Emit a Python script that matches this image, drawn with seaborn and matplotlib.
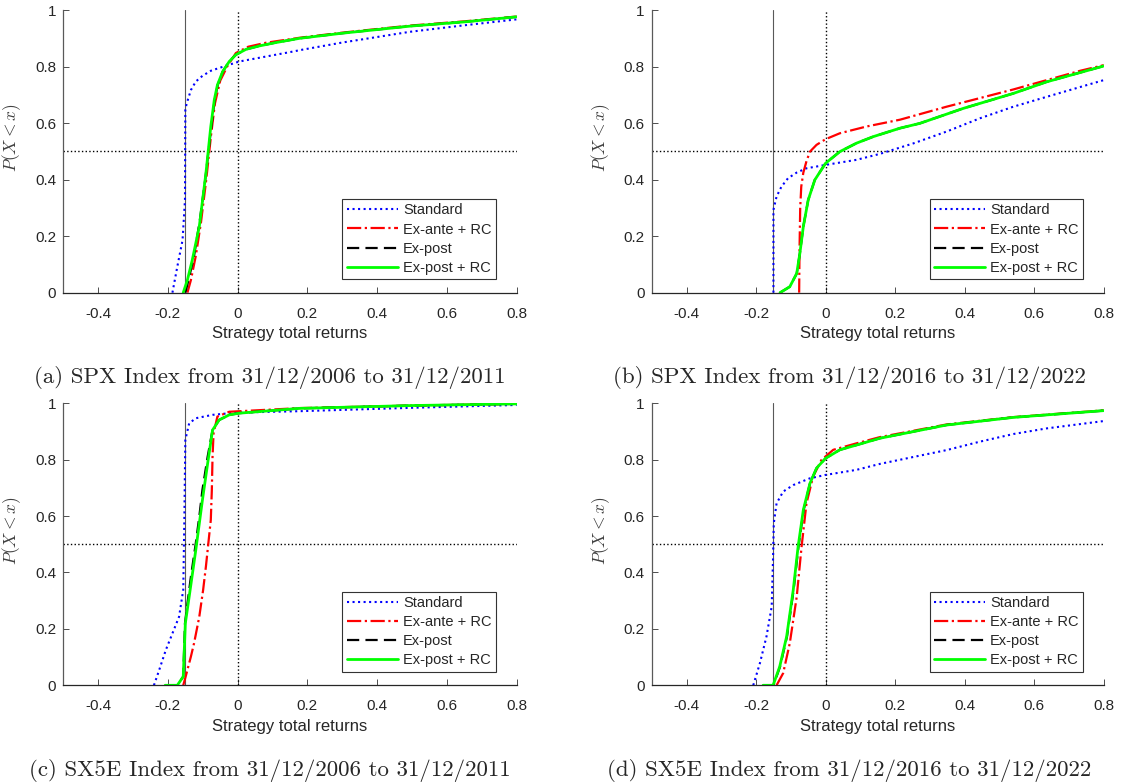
import seaborn as sns
import matplotlib.pyplot as plt
from matplotlib.ticker import FuncFormatter

# Series labels and styles
labels = ['Standard', 'Ex-ante + RC', 'Ex-post', 'Ex-post + RC']
captions = ['(a) SPX Index from 31/12/2006 to 31/12/2011',
            '(b) SPX Index from 31/12/2016 to 31/12/2022',
            '(c) SX5E Index from 31/12/2006 to 31/12/2011',
            '(d) SX5E Index from 31/12/2016 to 31/12/2022']
x_ticks = [-0.4, -0.2, 0, 0.2, 0.4, 0.6, 0.8]
y_ticks = [0, 0.2, 0.4, 0.6, 0.8, 1]

# (a) SPX 2006-2011
a_std_x = [-0.187, -0.173, -0.158, -0.151, -0.150, -0.146, -0.134, -0.120, -0.101, -0.077,
           -0.053, 0.005, 0.158, 0.178, 0.30, 0.494, 0.65, 0.80]
a_std_y = [0.0, 0.092, 0.186, 0.328, 0.647, 0.670, 0.717, 0.747, 0.767, 0.785,
           0.795, 0.818, 0.853, 0.858, 0.885, 0.923, 0.946, 0.967]
a_ante_x = [-0.144, -0.134, -0.120, -0.105, -0.090, -0.076, -0.065, -0.050, -0.030, -0.005,
            0.030, 0.080, 0.178, 0.30, 0.494, 0.65, 0.80]
a_ante_y = [0.0, 0.045, 0.13, 0.25, 0.40, 0.56, 0.67, 0.75, 0.80, 0.848,
            0.870, 0.884, 0.902, 0.920, 0.945, 0.960, 0.977]
a_post_x = [-0.150, -0.138, -0.125, -0.108, -0.093, -0.078, -0.066, -0.057, -0.043, -0.024,
            -0.005, 0.024, 0.062, 0.110, 0.178, 0.30, 0.494, 0.65, 0.80]
a_post_y = [0.0, 0.06, 0.13, 0.26, 0.40, 0.56, 0.682, 0.735, 0.782, 0.818,
            0.842, 0.861, 0.873, 0.885, 0.900, 0.918, 0.943, 0.958, 0.976]
a_rc_x = [-0.156, -0.144, -0.130, -0.110, -0.091, -0.077, -0.067, -0.058, -0.043, -0.024,
          -0.005, 0.024, 0.062, 0.110, 0.178, 0.30, 0.494, 0.65, 0.80]
a_rc_y = [0.0, 0.045, 0.116, 0.234, 0.422, 0.588, 0.682, 0.735, 0.782, 0.818,
          0.842, 0.861, 0.873, 0.885, 0.900, 0.918, 0.943, 0.958, 0.976]

# (b) SPX 2016-2022
b_std_x = [-0.150, -0.150, -0.141, -0.127, -0.108, -0.083, -0.055, 0.0, 0.089, 0.156,
           0.252, 0.348, 0.444, 0.540, 0.636, 0.80]
b_std_y = [0.0, 0.293, 0.340, 0.375, 0.405, 0.425, 0.440, 0.452, 0.470, 0.491,
           0.528, 0.570, 0.617, 0.658, 0.693, 0.752]
b_ante_x = [-0.076, -0.075, -0.073, -0.070, -0.064, -0.055, -0.045, -0.026, 0.0, 0.041,
            0.118, 0.214, 0.348, 0.540, 0.732, 0.80]
b_ante_y = [0.0, 0.15, 0.30, 0.375, 0.425, 0.465, 0.499, 0.523, 0.543, 0.564,
            0.588, 0.612, 0.658, 0.719, 0.785, 0.805]
b_post_x = [-0.131, -0.103, -0.083, -0.074, -0.064, -0.050, -0.031, 0.0, 0.041, 0.089,
            0.137, 0.214, 0.271, 0.396, 0.540, 0.636, 0.80]
b_post_y = [0.0, 0.021, 0.068, 0.139, 0.234, 0.328, 0.399, 0.458, 0.499, 0.529,
            0.552, 0.582, 0.599, 0.652, 0.705, 0.746, 0.802]
b_rc_x = [-0.131, -0.103, -0.083, -0.074, -0.064, -0.050, -0.031, 0.0, 0.041, 0.089,
          0.137, 0.214, 0.271, 0.396, 0.540, 0.636, 0.80]
b_rc_y = [0.0, 0.021, 0.068, 0.139, 0.234, 0.328, 0.399, 0.458, 0.499, 0.529,
          0.552, 0.582, 0.599, 0.652, 0.705, 0.746, 0.802]

# (c) SX5E 2006-2011
c_std_x = [-0.240, -0.225, -0.206, -0.187, -0.168, -0.156, -0.153, -0.150, -0.139, -0.120,
           -0.072, -0.005, 0.178, 0.50, 0.80]
c_std_y = [0.0, 0.054, 0.125, 0.184, 0.243, 0.338, 0.574, 0.870, 0.929, 0.947,
           0.959, 0.967, 0.972, 0.984, 0.994]
c_ante_x = [-0.156, -0.149, -0.134, -0.125, -0.110, -0.099, -0.091, -0.081, -0.077, -0.074,
            -0.072, -0.069, -0.058, -0.024, 0.178, 0.50, 0.80]
c_ante_y = [0.0, 0.031, 0.102, 0.149, 0.243, 0.338, 0.421, 0.539, 0.586, 0.693,
            0.811, 0.894, 0.953, 0.970, 0.983, 0.992, 0.998]
c_post_x = [-0.205, -0.172, -0.156, -0.151, -0.144, -0.134, -0.120, -0.110, -0.101, -0.086,
            -0.072, -0.053, -0.024, 0.005, 0.178, 0.50, 0.80]
c_post_y = [0.0, 0.0, 0.031, 0.220, 0.290, 0.385, 0.504, 0.598, 0.693, 0.811,
            0.905, 0.941, 0.959, 0.965, 0.982, 0.992, 0.998]
c_rc_x = [-0.208, -0.173, -0.156, -0.150, -0.139, -0.120, -0.101, -0.086, -0.072, -0.053,
          -0.024, 0.005, 0.178, 0.50, 0.80]
c_rc_y = [0.0, 0.0, 0.031, 0.220, 0.314, 0.480, 0.657, 0.787, 0.905, 0.941,
          0.959, 0.965, 0.982, 0.992, 0.998]

# (d) SX5E 2016-2022
d_std_x = [-0.208, -0.189, -0.170, -0.155, -0.151, -0.149, -0.141, -0.122, -0.093, -0.045,
           0.0, 0.089, 0.156, 0.348, 0.444, 0.540, 0.636, 0.80]
d_std_y = [0.0, 0.078, 0.173, 0.279, 0.456, 0.574, 0.645, 0.687, 0.710, 0.734,
           0.746, 0.764, 0.785, 0.834, 0.864, 0.891, 0.911, 0.937]
d_ante_x = [-0.141, -0.122, -0.103, -0.083, -0.069, -0.055, -0.036, -0.012, 0.022, 0.089,
            0.156, 0.348, 0.540, 0.80]
d_ante_y = [0.0, 0.043, 0.149, 0.314, 0.492, 0.645, 0.740, 0.799, 0.835, 0.858,
            0.880, 0.925, 0.951, 0.975]
d_post_x = [-0.178, -0.150, -0.131, -0.111, -0.092, -0.078, -0.063, -0.045, -0.026, 0.0,
            0.041, 0.089, 0.156, 0.348, 0.540, 0.80]
d_post_y = [0.0, 0.0, 0.066, 0.173, 0.338, 0.492, 0.622, 0.716, 0.770, 0.805,
            0.835, 0.852, 0.876, 0.923, 0.950, 0.974]
d_rc_x = [-0.180, -0.151, -0.132, -0.112, -0.093, -0.079, -0.064, -0.045, -0.026, 0.0,
          0.041, 0.089, 0.156, 0.348, 0.540, 0.80]
d_rc_y = [0.0, 0.0, 0.066, 0.173, 0.338, 0.492, 0.622, 0.716, 0.770, 0.805,
          0.835, 0.852, 0.876, 0.923, 0.950, 0.974]

panels = [
    [(a_std_x, a_std_y), (a_ante_x, a_ante_y), (a_post_x, a_post_y), (a_rc_x, a_rc_y)],
    [(b_std_x, b_std_y), (b_ante_x, b_ante_y), (b_post_x, b_post_y), (b_rc_x, b_rc_y)],
    [(c_std_x, c_std_y), (c_ante_x, c_ante_y), (c_post_x, c_post_y), (c_rc_x, c_rc_y)],
    [(d_std_x, d_std_y), (d_ante_x, d_ante_y), (d_post_x, d_post_y), (d_rc_x, d_rc_y)],
]

styles = [
    dict(color=(0, 0, 1), linestyle=':', linewidth=1.5),
    dict(color=(1, 0, 0), linestyle=(0, (6.4, 1.6, 1.0, 1.6)), linewidth=1.6),
    dict(color='black', linestyle=(0, (5.5, 2.8)), linewidth=1.6),
    dict(color=(0, 1, 0), linestyle='-', linewidth=2.0),
]

# Set style
sns.set_style("ticks", {'xtick.direction': 'in', 'ytick.direction': 'in'})
plt.rcParams['font.family'] = ['Liberation Sans', 'DejaVu Sans']
plt.rcParams['mathtext.fontset'] = 'cm'

fig = plt.figure(figsize=(11.4, 7.84), dpi=100)
positions = [[0.0555, 0.6267, 0.3977, 0.3605],
             [0.5717, 0.6267, 0.3965, 0.3605],
             [0.0555, 0.1259, 0.3977, 0.3597],
             [0.5717, 0.1259, 0.3965, 0.3597]]
caption_xy = [(0.237, 0.518), (0.745, 0.518), (0.237, 0.017), (0.745, 0.017)]

for k, series in enumerate(panels):
    ax = fig.add_axes(positions[k])

    # Reference lines
    ax.axvline(-0.15, color='0.35', linewidth=0.8, zorder=1)
    ax.axvline(0, color='black', linestyle=':', linewidth=1.0, zorder=1)
    ax.axhline(0.5, color='black', linestyle=':', linewidth=1.0, zorder=1)

    for (xs, ys), lab, st in zip(series, labels, styles):
        sns.lineplot(x=xs, y=ys, ax=ax, sort=False, estimator=None,
                     label=lab, **st)

    ax.set_xlim(-0.5, 0.8)
    ax.set_ylim(0, 1)
    ax.set_xticks(x_ticks)
    ax.set_yticks(y_ticks)
    fmt = FuncFormatter(lambda v, p: f'{v:g}')
    ax.xaxis.set_major_formatter(fmt)
    ax.yaxis.set_major_formatter(fmt)
    ax.tick_params(axis='both', labelsize=11, labelcolor='0.15',
                   length=4, width=0.7, color='0.3')
    ax.tick_params(axis='x', pad=10)
    ax.tick_params(axis='y', pad=5)
    sns.despine(ax=ax)
    ax.spines['left'].set_color('0.35')
    ax.spines['bottom'].set_color('0.15')
    ax.spines['left'].set_linewidth(0.9)
    ax.spines['bottom'].set_linewidth(0.9)

    ax.set_xlabel('Strategy total returns', fontsize=12, color='0.15', labelpad=4)
    ax.set_ylabel('$P(X < x)$', fontsize=12.5, color='0.25')
    ax.yaxis.set_label_coords(-0.088, 0.55)

    leg = ax.legend(loc='lower right', bbox_to_anchor=(0.954, 0.048),
                    borderaxespad=0, fontsize=10.5, handlelength=3.5,
                    handletextpad=0.35, labelspacing=0.35, borderpad=0.3,
                    fancybox=False, framealpha=1, edgecolor='0.2')
    leg.get_frame().set_linewidth(0.8)

    fig.text(caption_xy[k][0], caption_xy[k][1], captions[k],
             family='cmr10', fontsize=16.5, ha='center', va='center')

plt.savefig('out.png', dpi=100)
